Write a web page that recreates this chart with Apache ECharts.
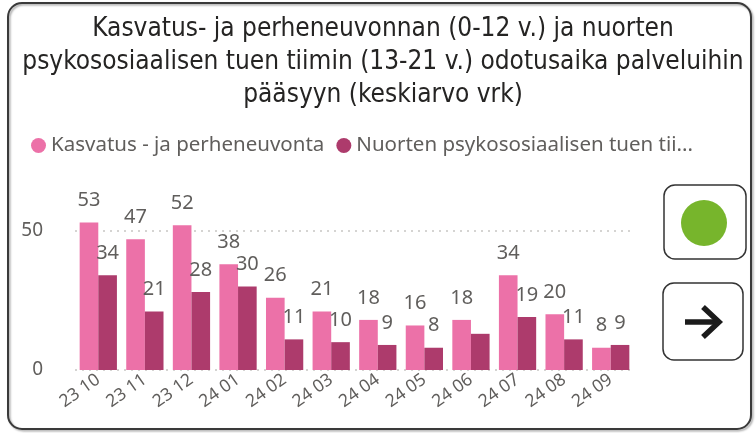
<!DOCTYPE html>
<html>
<head>
<meta charset="utf-8">
<script src="https://cdn.jsdelivr.net/npm/echarts@6/dist/echarts.min.js"></script>
<style>
  html, body { margin: 0; padding: 0; background: #fff; }
  #chart { width: 756px; height: 433px; }
</style>
</head>
<body>
<div id="chart"></div>
<script>
// month labels (vv kk)
const months = ["23 10", "23 11", "23 12", "24 01", "24 02", "24 03", "24 04", "24 05", "24 06", "24 07", "24 08", "24 09"];
// Kasvatus- ja perheneuvonta, keskiarvo vrk
const perheneuvonta = [53, 47, 52, 38, 26, 21, 18, 16, 18, 34, 20, 8];
// Nuorten psykososiaalisen tuen tiimi, keskiarvo vrk
const nuorten = [34, 21, 28, 30, 11, 10, 9, 8, 13, 19, 11, 9];
const yTicks = [0, 50];

const seriesNames = ["Kasvatus - ja perheneuvonta", "Nuorten psykososiaalisen tuen tiimi (13-21 v.)"];
const txt = "#605E5C";
const font = "Noto Sans";

// Power BI hides the label that collides with its neighbour (24 06)
const hiddenLabel = 8;

const chart = echarts.init(document.getElementById("chart"));

const labelStyle = {
  show: true,
  position: "top",
  distance: 12,
  color: txt,
  fontFamily: font,
  fontSize: 20
};

chart.setOption({
  animation: false,
  title: {
    text: "Kasvatus- ja perheneuvonnan (0-12 v.) ja nuorten\npsykososiaalisen tuen tiimin (13-21 v.) odotusaika palveluihin\npääsyyn (keskiarvo vrk)",
    left: 378,
    top: 8,
    textAlign: "center",
    textStyle: {
      fontFamily: "'DejaVu Sans Condensed', Roboto, sans-serif",
      fontWeight: "normal",
      fontSize: 26,
      lineHeight: 33,
      color: "#252423"
    }
  },
  legend: {
    left: 26,
    top: 130,
    icon: "circle",
    itemWidth: 15,
    itemHeight: 15,
    itemGap: 12,
    textStyle: {
      fontFamily: font,
      fontSize: 20.5,
      color: txt,
      width: 352,
      overflow: "truncate",
      ellipsis: "..."
    }
  },
  grid: {
    left: 75,
    right: 122,
    top: 203,
    bottom: 63
  },
  xAxis: {
    type: "category",
    data: months,
    axisLine: { show: false },
    axisTick: { show: false },
    axisLabel: {
      rotate: 35,
      margin: 8,
      color: txt,
      fontFamily: font,
      fontSize: 17.5
    }
  },
  yAxis: {
    type: "value",
    min: yTicks[0],
    max: 60,
    interval: yTicks[1] - yTicks[0],
    axisLabel: {
      showMaxLabel: false,
      margin: 32,
      color: txt,
      fontFamily: font,
      fontSize: 19
    },
    splitLine: {
      showMaxLine: false,
      lineStyle: { color: "#C8C6C4", type: [2, 5], width: 1.5 }
    }
  },
  series: [
    {
      name: seriesNames[0],
      type: "bar",
      data: perheneuvonta,
      barGap: "0%",
      barCategoryGap: "20%",
      itemStyle: { color: "#EC71A8" },
      label: labelStyle
    },
    {
      name: seriesNames[1],
      type: "bar",
      data: nuorten.map((v, i) => i === hiddenLabel ? { value: v, label: { show: false } } : v),
      itemStyle: { color: "#AD3B6C" },
      label: labelStyle
    }
  ],
  graphic: [
    {
      type: "rect",
      shape: { x: 8, y: 3, width: 743, height: 426, r: 14 },
      style: {
        fill: "none",
        stroke: "#3a3a3a",
        lineWidth: 2,
        shadowColor: "rgba(0,0,0,0.35)",
        shadowOffsetX: 1.5,
        shadowOffsetY: 1.5,
        shadowBlur: 2
      },
      silent: true
    },
    {
      type: "rect",
      shape: { x: 664, y: 185, width: 82, height: 74, r: 11 },
      style: { fill: "#fff", stroke: "#333", lineWidth: 1.5 }
    },
    {
      type: "circle",
      shape: { cx: 704, cy: 223, r: 23 },
      style: { fill: "#77B52C" }
    },
    {
      type: "rect",
      shape: { x: 663, y: 283, width: 80, height: 77, r: 11 },
      style: { fill: "#fff", stroke: "#333", lineWidth: 1.5 }
    },
    {
      type: "line",
      shape: { x1: 685, y1: 322, x2: 718, y2: 322 },
      style: { stroke: "#1b1b1b", lineWidth: 5.5 }
    },
    {
      type: "polyline",
      shape: { points: [[703, 307], [719, 322], [703, 337]] },
      style: { fill: "none", stroke: "#1b1b1b", lineWidth: 5.5, lineJoin: "miter" }
    }
  ]
});
</script>
</body>
</html>
